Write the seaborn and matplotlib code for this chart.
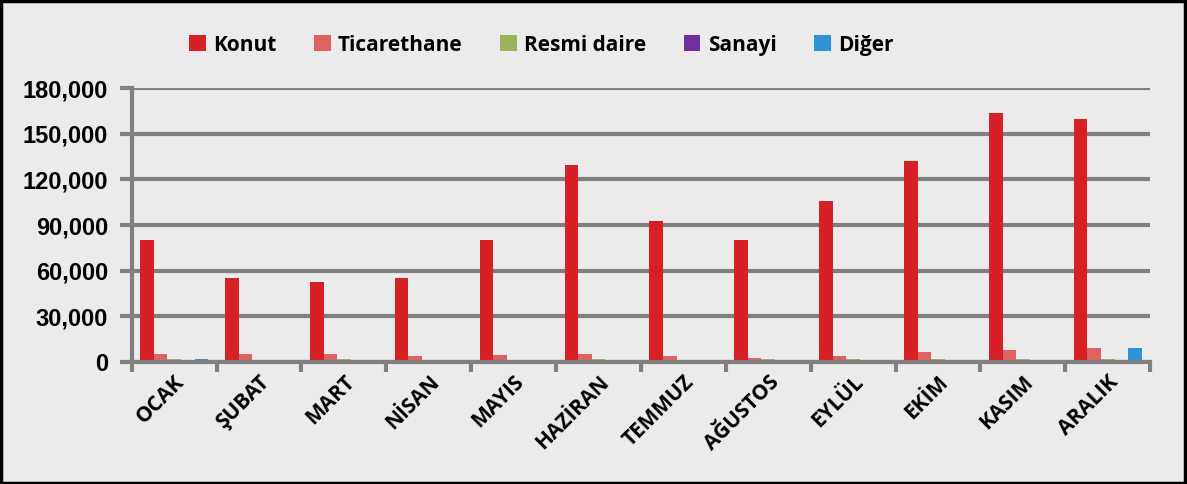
import numpy as np
import pandas as pd
import matplotlib
matplotlib.use("Agg")
import matplotlib.pyplot as plt
from matplotlib.patches import Rectangle
from matplotlib.ticker import FuncFormatter
import seaborn as sns

# aylar ve bina turleri
aylar = ["OCAK", "ŞUBAT", "MART", "NİSAN", "MAYIS", "HAZİRAN",
         "TEMMUZ", "AĞUSTOS", "EYLÜL", "EKİM", "KASIM", "ARALIK"]
turler = ["Konut", "Ticarethane", "Resmi daire", "Sanayi", "Diğer"]

# degerler (resimden okunan yaklasik)
konut = [80000, 55500, 52300, 55500, 80000, 129500, 92500, 80200, 105500, 132000, 163500, 160000]
ticarethane = [5000, 5000, 5000, 3700, 4500, 5000, 3700, 2700, 3700, 6500, 8000, 9000]
resmi_daire = [2000, 1000, 2000, 0, 300, 2000, 0, 2000, 2000, 2000, 2000, 2000]
sanayi = [0, 0, 0, 0, 0, 0, 0, 0, 0, 0, 0, 0]
diger = [2000, 0, 0, 0, 0, 0, 0, 0, 0, 0, 0, 9000]

renkler = ["#d71f26", "#dc6362", "#9bb25c", "#7030a0", "#2e93d6"]

seriler = [konut, ticarethane, resmi_daire, sanayi, diger]
df = pd.DataFrame({
    "ay": np.tile(aylar, len(turler)),
    "tur": np.repeat(turler, len(aylar)),
    "deger": np.concatenate(seriler),
})

arka = "#ebebeb"
gri = "#808080"

fig = plt.figure(figsize=(11.87, 4.84), dpi=100, facecolor=arka)
ax = fig.add_axes([0.111, 0.252, 0.858, 0.566])
ax.set_facecolor(arka)

sns.barplot(data=df, x="ay", y="deger", hue="tur", order=aylar, hue_order=turler,
            palette=renkler, width=0.8, saturation=1, errorbar=None, ax=ax)

ax.set_xlim(-0.5, len(aylar) - 0.5)
ax.set_ylim(0, 180000)
ax.set_yticks(np.arange(0, 180001, 30000))
ax.yaxis.set_major_formatter(FuncFormatter(lambda v, p: f"{int(v):,}"))
ax.yaxis.grid(True, color=gri, linewidth=3)
ax.xaxis.grid(False)
ax.set_axisbelow(True)
ax.set_xlabel("")
ax.set_ylabel("")

for s in ["top", "right"]:
    ax.spines[s].set_visible(False)
for s in ["left", "bottom"]:
    ax.spines[s].set_color(gri)
    ax.spines[s].set_linewidth(3)

# x ekseni: cizgiler gruplar arasinda
ax.set_xticks(np.arange(-0.5, len(aylar)), minor=True)
ax.tick_params(axis="x", which="major", length=0, pad=7)
ax.tick_params(axis="x", which="minor", length=7, width=3, color=gri, direction="out")
ax.tick_params(axis="y", length=9, width=3, color=gri, direction="out", pad=8)

for lab in ax.get_yticklabels():
    lab.set_fontfamily("Liberation Sans")
    lab.set_fontweight("bold")
    lab.set_fontsize(17)

ax.set_xticks(range(len(aylar)))
ax.set_xticklabels(aylar, rotation=45, ha="right", rotation_mode="anchor",
                   fontfamily="Open Sans", fontweight="bold", fontsize=15)

ax.legend(loc="center", bbox_to_anchor=(0.456, 0.907), bbox_transform=fig.transFigure,
          ncol=5, frameon=False, handlelength=0.8, handleheight=0.8, handletextpad=0.35,
          columnspacing=1.8, prop={"family": "Open Sans", "weight": "bold", "size": 15})

# cerceve
fig.patches.append(Rectangle((0.001, 0.002), 0.997, 0.995, transform=fig.transFigure,
                             fill=False, edgecolor="black", linewidth=2.5))

fig.savefig("out.png", dpi=100, facecolor=arka)
